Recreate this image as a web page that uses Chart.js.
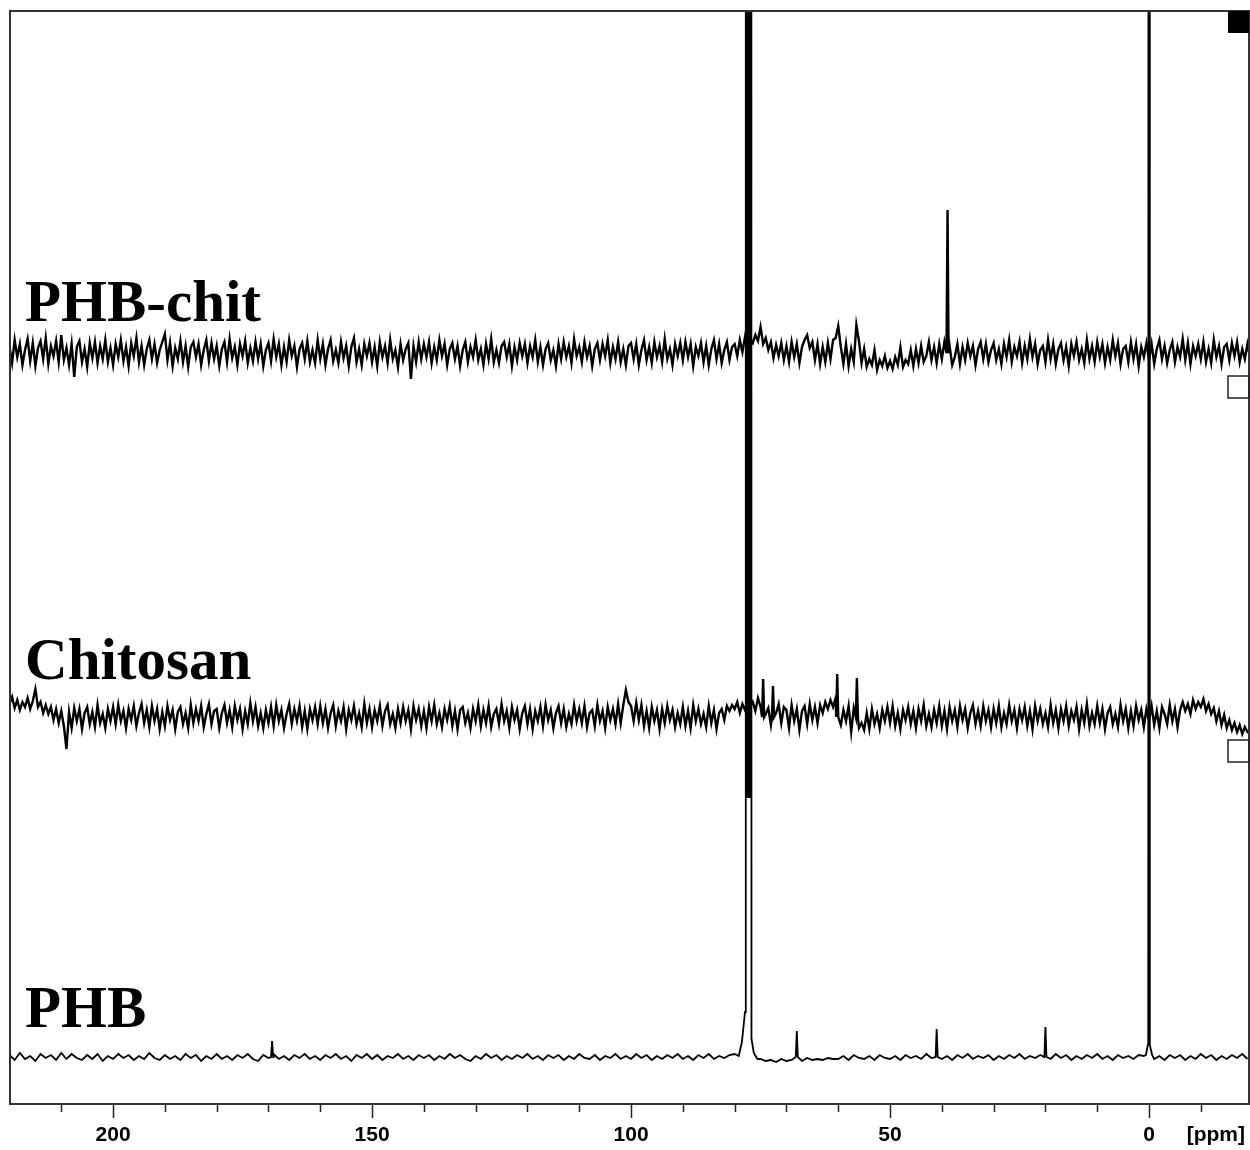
<!DOCTYPE html>
<html>
<head>
<meta charset="utf-8">
<title>13C NMR - PHB-chit, Chitosan, PHB</title>
<script src="https://cdn.jsdelivr.net/npm/chart.js@4.4.0/dist/chart.umd.min.js"></script>
<style>
  html, body { margin: 0; padding: 0; background: #fff; }
  canvas { display: block; }
</style>
</head>
<body>
<canvas id="nmrChart" width="1250" height="1150"></canvas>
<script>
// chemical shift axis (ppm), reversed like any NMR plot
const ppmMin = -19.3;
const ppmMax = 219.9;
const majorTicks = [200, 150, 100, 50, 0];

// stacked traces, top to bottom, with their vertical offsets (intensity units)
const spectrumNames = ['PHB-chit', 'Chitosan', 'PHB'];
const baselines = [751, 387, 47];
const lineWidths = [2.4, 2.4, 1.8];

// noise, starting at 220 ppm
// PHB-chit and Chitosan: one value every 0.5 ppm
const phbChitNoise = [
  6,-10,13,-4,9,-12,3,14,-8,10,-13,5,12,-6,15,-11,7,-3,12,-9,
  18,-7,5,-12,9,-24,6,12,-9,4,-14,10,-5,11,-10,7,-6,13,-9,5,
  -12,9,-4,13,-8,6,-13,10,-3,15,-9,7,-12,4,13,-6,9,-10,3,11,
  19,-7,10,-13,5,-6,12,-9,7,-14,6,11,-4,9,-12,3,13,-8,10,-6,
  7,-13,4,11,-9,14,-5,6,-12,9,-3,12,-10,5,-8,11,-6,9,-13,3,
  10,-8,14,-4,9,-12,6,-9,13,-3,7,-14,4,10,-6,12,-9,3,-10,13,
  -6,9,-12,4,13,-8,3,-10,11,-5,7,-13,6,15,-9,4,-12,9,-3,10,
  -9,6,-13,11,-4,7,-10,13,-6,3,-14,9,-7,4,10,-26,7,-9,11,-6,
  9,-4,11,-10,6,-7,13,-3,9,-12,4,10,-6,7,-13,3,11,-9,6,-4,
  13,-7,4,-12,9,-6,14,-9,3,-10,7,11,-4,9,-13,6,-7,10,-3,9,
  -10,7,-4,13,-9,6,-12,4,10,-7,3,-13,9,-6,11,-4,7,-10,14,-3,
  6,-9,11,-4,7,-13,4,10,-7,9,-3,13,-10,6,-6,11,-9,4,-12,7,
  10,-6,9,-12,3,13,-7,6,-10,11,-4,7,-9,14,-6,4,-12,9,-3,10,
  -7,11,-4,9,-13,6,-3,10,-9,7,-12,4,13,-6,9,-10,3,11,-7,6,
  9,-3,13,1,16,5,14,10,18,12,26,9,15,3,11,-5,8,-3,10,-7,
  7,-9,11,-4,9,-10,6,13,18,5,11,-7,9,-11,6,-9,10,-6,13,15,
  27,6,-11,9,-13,4,-9,28,12,-10,4,-14,-6,-12,3,-17,-7,-13,-3,-15,
  -8,-16,-4,-12,6,-14,-7,-11,3,-13,4,-10,7,-9,-3,11,-7,6,-10,9,
  -6,11,-4,7,-12,-4,9,-11,6,-7,10,-3,7,-12,4,11,-6,9,-9,3,
  10,-7,4,-11,9,-4,13,-9,6,-3,11,-10,7,-6,14,-4,9,-11,3,7,
  -9,13,-6,9,-11,4,10,-7,6,-13,9,-3,11,-7,4,-10,13,-6,7,-9,
  11,-4,9,-10,6,-7,13,-3,10,-11,4,7,-9,11,-6,9,-13,6,-4,10,
  -7,9,-11,4,13,-6,7,-10,3,11,-9,6,-4,14,-7,10,-11,7,-3,9,
  -6,11,-9,4,-10,13,-4,7,-11,6,9,-7,10,-3,11,-9,4,-6,9,-4
];

const chitosanNoise = [
  13,20,9,17,7,15,10,19,8,16,28,10,15,4,12,3,10,-3,8,-6,
  6,-9,-32,5,-11,9,-4,8,-12,4,10,-7,5,-10,12,-6,3,-11,8,-4,
  10,-7,12,-4,6,-11,8,-3,11,-9,4,13,-6,7,-10,11,-4,8,-12,5,
  -9,11,-3,7,-12,5,10,-7,4,-11,12,-6,8,-4,11,-10,3,13,-7,6,
  8,-11,4,12,-6,7,-10,11,-3,8,-12,6,-7,14,-4,10,-9,4,-11,7,
  -6,10,-9,12,-4,7,-11,3,13,-7,8,-4,11,-10,6,-12,8,-3,10,-7,
  11,-6,8,-11,4,12,-9,6,-4,10,-12,7,-3,11,-7,4,-10,13,-6,8,
  -10,7,-4,11,-9,6,12,-7,3,-11,8,-6,10,-4,7,-12,11,-3,8,-9,
  6,-11,10,-4,12,-7,4,-10,8,-3,11,-9,6,-12,7,10,-6,4,-11,8,
  -4,12,-9,7,-6,11,-10,3,8,-7,13,-4,6,-11,10,-3,7,-12,4,11,
  -7,8,-12,6,-4,10,-9,12,-3,7,-11,4,11,-6,8,-10,3,-7,12,-4,
  8,-6,11,-10,4,7,-9,12,-4,6,-11,10,-3,8,-7,13,-6,12,27,15,
  11,-4,14,-3,12,-9,6,-11,10,-4,7,-12,8,-6,11,-3,7,-10,4,-7,
  10,-9,6,-11,12,-4,8,-7,3,-10,11,-6,7,-12,4,8,-3,11,6,12,
  8,15,4,13,7,17,10,15,6,19,10,-19,3,9,-8,12,4,13,-6,10,
  7,-11,12,-4,8,-13,6,11,-7,13,-3,10,-6,12,4,15,8,17,10,19,
  13,-8,7,-4,11,-15,9,6,-11,-6,-13,4,-12,8,-7,3,-11,7,-4,10,
  -6,11,-9,4,-12,7,-3,10,-7,6,-11,8,-4,12,-9,3,-10,7,-6,11,
  -9,6,-12,10,-4,7,-10,11,-3,8,-11,4,12,-7,6,-9,11,-4,7,-10,
  8,-6,11,-10,4,-7,12,-4,7,-11,8,-3,10,-9,6,-12,11,-4,8,-7,
  4,-10,12,-6,7,-11,8,-4,11,-9,6,-3,10,-12,7,-6,13,-9,4,-7,
  11,-6,8,-12,4,10,-7,3,-10,12,-4,8,-11,6,-9,11,-3,7,-10,8,
  -4,11,-8,6,-11,10,3,-7,12,-4,8,-10,7,15,6,13,3,17,8,15,
  10,18,6,13,3,9,-4,6,-8,2,-11,-3,-13,-6,-15,-8,-17,-10,-15,-13
];

// PHB: one value every 1 ppm
const phbNoise = [
  2,-3,4,-2,1,-4,3,-1,2,-3,4,-2,3,-1,-3,2,-2,3,-4,1,
  -2,3,-1,2,-3,1,-2,4,-1,-3,2,-2,1,-3,3,-1,2,-4,1,-2,
  3,-2,1,-3,2,-1,3,-2,-4,2,-1,3,-2,1,-3,2,-1,3,-2,1,
  -3,2,-1,3,-2,1,-4,2,-1,3,-2,2,-3,1,-1,3,-2,1,-3,2,
  -1,2,-3,1,-2,3,-1,2,-2,-4,1,-2,3,-1,2,-3,1,-2,2,-1,
  3,-2,1,-3,2,-1,2,-3,1,-2,3,-1,-2,2,-3,1,-1,3,-2,1,
  -2,3,-1,2,-3,1,-2,2,-1,3,-2,1,-3,2,-1,3,-2,1,-1,2,
  3,4,6,8,10,-2,-4,-3,-5,-2,-4,-3,-2,-4,-1,-3,-2,-3,-1,-2,
  -2,1,-3,2,-1,-2,1,-3,2,-1,-2,1,-3,2,-1,1,-2,3,-1,2,
  -2,1,-3,2,-1,3,-2,1,-1,2,-3,1,-2,2,-1,3,-2,1,-1,2,
  1,-2,3,-1,2,-3,1,-2,2,-1,3,-2,1,-3,2,-1,1,-2,2,1,
  3,-2,1,-3,2,-1,2,-3,1,-2,3,-1,2,-3,1,-2,2,-1,3,-2
];

// sharp lines [ppm, height above baseline]
const phbChitPeaks = [[38.9, 143]];
const chitosanPeaks = [[74.5, 38], [72.6, 31], [60.2, 43], [56.4, 39]];
const phbPeaks = [[169.3, 16], [68.0, 26], [41.0, 28], [20.0, 30]];

// CDCl3 multiplet and TMS of the PHB trace, both far off scale
const cdclPpm = [79.2, 78.6, 78.0, 77.85, 77.75, 77.65, 77.55, 77.45, 77.35, 77.25, 77.15, 77.05, 76.95, 76.85, 76.75, 76.3, 75.6];
const cdclHeight = [1, 15, 45, 5000, 260, 5000, 260, 5000, 260, 5000, 260, 5000, 260, 5000, 18, 4, -2];
const tmsPpm = [0.6, 0.15, 0, -0.15, -0.6];
const tmsHeight = [2, 14, 5000, 12, 2];

function buildTrace(step, noise, lines, shapes, offset) {
    let pts = noise.map((v, i) => ({ x: 220 - i * step, y: v }));

    lines.forEach(([p, h]) => {
        pts = pts.filter(pt => Math.abs(pt.x - p) > 0.25);
        pts.push({ x: p + 0.2, y: 0 }, { x: p, y: h }, { x: p - 0.2, y: 0 });
    });

    shapes.forEach(([xs, ys]) => {
        const hi = Math.max(...xs), lo = Math.min(...xs);
        pts = pts.filter(pt => pt.x > hi || pt.x < lo);
        xs.forEach((x, i) => pts.push({ x: x, y: ys[i] }));
    });

    pts.sort((a, b) => b.x - a.x);
    return pts.map(pt => ({ x: pt.x, y: pt.y + offset }));
}

const traces = [
    buildTrace(0.5, phbChitNoise, phbChitPeaks, [], baselines[0]),
    buildTrace(0.5, chitosanNoise, chitosanPeaks, [], baselines[1]),
    buildTrace(1, phbNoise, phbPeaks, [[cdclPpm, cdclHeight], [tmsPpm, tmsHeight]], baselines[2])
];

// white page, frame, minor ticks, trace names and the little Bruker boxes
const decorPlugin = {
    id: 'decor',
    beforeDraw(chart) {
        const ctx = chart.ctx;
        ctx.save();
        ctx.fillStyle = '#fff';
        ctx.fillRect(0, 0, chart.width, chart.height);
        ctx.restore();
    },
    afterDraw(chart) {
        const ctx = chart.ctx;
        const area = chart.chartArea;
        const x = chart.scales.x;
        const y = chart.scales.y;

        ctx.save();
        // frame
        ctx.strokeStyle = '#333';
        ctx.lineWidth = 2;
        ctx.strokeRect(area.left, area.top, area.right - area.left, area.bottom - area.top);

        // minor ticks every 10 ppm
        ctx.strokeStyle = '#222';
        ctx.lineWidth = 1.5;
        x.ticks.forEach(t => {
            if (t.value % 50 === 0) return;
            const px = Math.round(x.getPixelForValue(t.value)) + 0.5;
            ctx.beginPath();
            ctx.moveTo(px, area.bottom);
            ctx.lineTo(px, area.bottom + 8);
            ctx.stroke();
        });

        // unit
        ctx.fillStyle = '#000';
        ctx.font = 'bold 21px "Liberation Sans", Arial, sans-serif';
        ctx.textAlign = 'center';
        ctx.textBaseline = 'middle';
        ctx.fillText('[ppm]', x.getPixelForValue(-12.9), area.bottom + 31);

        // trace names
        const nameY = [783, 425, 77];
        ctx.font = 'bold 59px "Liberation Serif", "Times New Roman", serif';
        ctx.textAlign = 'left';
        ctx.textBaseline = 'alphabetic';
        spectrumNames.forEach((name, i) => {
            ctx.fillText(name, x.getPixelForValue(217), y.getPixelForValue(nameY[i]));
        });

        // boxes at the right edge
        ctx.fillRect(area.right - 21, area.top, 21, 22);
        ctx.lineWidth = 1.5;
        [0, 1].forEach(i => {
            const top = y.getPixelForValue(baselines[i]) + 23;
            ctx.strokeRect(area.right - 21, top, 21, 22);
        });
        ctx.restore();
    }
};

const chart = new Chart(document.getElementById('nmrChart'), {
    type: 'line',
    data: {
        datasets: traces.map((pts, i) => ({
            label: spectrumNames[i],
            data: pts,
            borderColor: '#000',
            borderWidth: lineWidths[i],
            pointRadius: 0,
            tension: 0,
            fill: false,
            clip: 0
        }))
    },
    options: {
        responsive: false,
        animation: false,
        layout: { padding: { left: 10, right: 1, top: 11, bottom: 0 } },
        plugins: {
            legend: { display: false },
            tooltip: { enabled: false }
        },
        scales: {
            x: {
                type: 'linear',
                reverse: true,
                min: ppmMin,
                max: ppmMax,
                border: { display: false },
                grid: {
                    drawOnChartArea: false,
                    tickLength: 14,
                    tickWidth: 1.5,
                    tickColor: (c) => (c.tick && majorTicks.includes(c.tick.value)) ? '#222' : 'rgba(0,0,0,0)'
                },
                ticks: {
                    stepSize: 10,
                    includeBounds: false,
                    autoSkip: false,
                    maxRotation: 0,
                    padding: 5,
                    color: '#000',
                    font: { family: '"Liberation Sans", Arial, sans-serif', size: 21, weight: 'bold' },
                    callback: (v) => majorTicks.includes(v) ? String(v) : ''
                },
                afterFit: (scale) => { scale.height = 46; }
            },
            y: {
                display: false,
                min: 0,
                max: 1093
            }
        }
    },
    plugins: [decorPlugin]
});
</script>
</body>
</html>
